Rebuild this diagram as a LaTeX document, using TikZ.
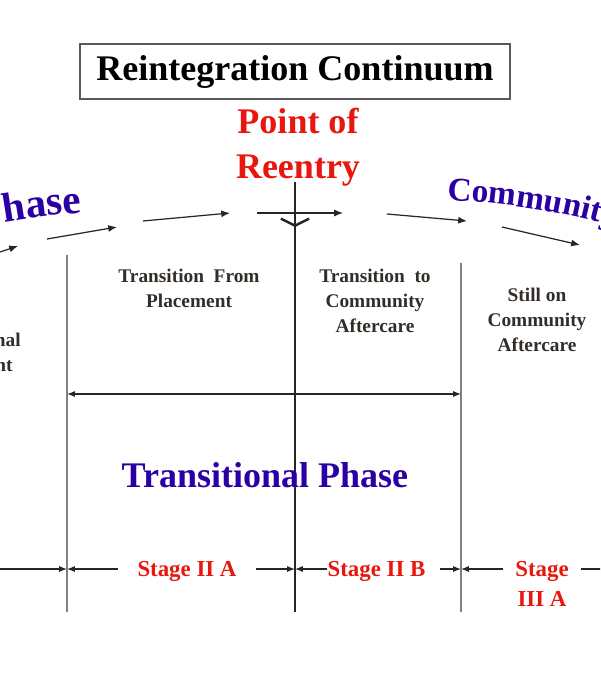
\documentclass[tikz,border=0pt]{standalone}
\usepackage{fontspec}
\setmainfont{Liberation Serif}
\usepackage{tikz}
\usetikzlibrary{arrows.meta,decorations.text,calc}
\definecolor{reentryred}{RGB}{232,22,12}
\definecolor{phaseblue}{RGB}{42,0,165}
\definecolor{labeldark}{RGB}{50,45,40}
\tikzset{
    title-box/.style = {draw=black!65, line width=1pt, minimum width=8.6cm, minimum height=1.1cm, font=\fontsize{20.5}{24}\selectfont\bfseries},
    reentry-text/.style = {text=reentryred, align=center, inner sep=0pt, font=\fontsize{20.5}{25.5}\selectfont\bfseries},
    phase-text/.style = {text=phaseblue, inner sep=0pt, font=\fontsize{20.5}{24}\selectfont\bfseries},
    box-text/.style = {text=labeldark, align=center, inner sep=0pt, font=\fontsize{11}{14.2}\selectfont\bfseries},
    stage-label/.style = {text=reentryred, align=center, inner sep=0pt, font=\fontsize{13}{16.7}\selectfont\bfseries},
    divider/.style = {draw=black!50, line width=1.1pt},
    reentry-line/.style = {draw=black!85, line width=1.4pt},
    flow-arrow/.style = {draw=black!85, line width=0.7pt, -{Latex[length=5pt,width=4pt]}},
    dim-line/.style = {draw=black!85, line width=0.7pt, -{Latex[length=4.5pt,width=3.5pt]}},
    span-line/.style = {draw=black!85, line width=0.7pt, {Latex[length=4.5pt,width=3.5pt]}-{Latex[length=4.5pt,width=3.5pt]}},
}

\begin{document}
\begin{tikzpicture}[x=0.02cm, y=-0.02cm]
\useasboundingbox (0,0) rectangle (600,680);
\clip (0,0) rectangle (600,680);

\node[title-box] (title) at (295,71.5) {Reintegration Continuum};
\node[reentry-text] (reentry) at (298,147.5) {Point of\\Reentry};

\path[decorate, decoration={text along path, text align=right,
    text={|\fontsize{23.5}{28}\selectfont\bfseries\color{phaseblue}|Institutional Phase}}]
    (-369,416.5) arc[start angle=135, end angle=93.6, radius=14cm];
\path[decorate, decoration={text along path,
    text={|\fontsize{19}{23}\selectfont\bfseries\color{phaseblue}|Community Phase}}]
    (447,200.4) arc[start angle=88, end angle=55, radius=14cm];

\draw[flow-arrow] (0,252) -- (18,246);
\draw[flow-arrow] (47,239) -- (117,227);
\draw[flow-arrow] (143,221) -- (230,213);
\draw[flow-arrow] (257,213) -- (343,213);
\draw[flow-arrow] (387,214) -- (467,221);
\draw[flow-arrow] (502,227) -- (580,245);

\coordinate (v1-top) at (67,255);
\coordinate (v1-bot) at (67,612);
\coordinate (v2-top) at (295,182);
\coordinate (v2-tip) at (295,227);
\coordinate (v2-bot) at (295,612);
\coordinate (v3-top) at (461,263);
\coordinate (v3-bot) at (461,612);
\coordinate (span-y) at (0,394);
\coordinate (stage-y) at (0,569);
\coordinate (stage-end) at (640,569);

\draw[divider] (v1-top) -- (v1-bot);
\draw[divider] (v3-top) -- (v3-bot);
\draw[reentry-line] (v2-top) -- (v2-bot);
\draw[reentry-line, -{Straight Barb[length=4pt,width=16pt]}] (v2-top) -- (v2-tip);
\draw[span-line] (v1-top |- span-y) -- (v3-top |- span-y);

\node[box-text, anchor=east] (institutional) at (21,352.5) {Institutional\\Placement};
\node[box-text] (trans-from) at (189,288) {Transition~~From\\Placement};
\node[box-text] (trans-to) at (375,301) {Transition~~to\\Community\\Aftercare};
\node[box-text] (still-on) at (537,320) {Still on\\Community\\Aftercare};
\node[phase-text] (transitional) at (265,475) {Transitional Phase};

\node[stage-label] (stage-iia) at (187,571) {Stage II A};
\node[stage-label] (stage-iib) at (376.5,571) {Stage II B};
\node[stage-label] (stage-iiia) at (542,584) {Stage\\III A};

\draw[dim-line] (stage-y) -- (v1-top |- stage-y);
\draw[dim-line] ($(stage-iia.west |- stage-y)+(-11pt,0)$) -- (v1-top |- stage-y);
\draw[dim-line] ($(stage-iia.east |- stage-y)+(11pt,0)$) -- (v2-top |- stage-y);
\draw[dim-line] (stage-iib.west |- stage-y) -- (v2-top |- stage-y);
\draw[dim-line] ($(stage-iib.east |- stage-y)+(8pt,0)$) -- (v3-top |- stage-y);
\draw[dim-line] ($(stage-iiia.west |- stage-y)+(-7pt,0)$) -- (v3-top |- stage-y);
\draw[dim-line, -] ($(stage-iiia.east |- stage-y)+(7pt,0)$) -- (stage-end);
\end{tikzpicture}
\end{document}
